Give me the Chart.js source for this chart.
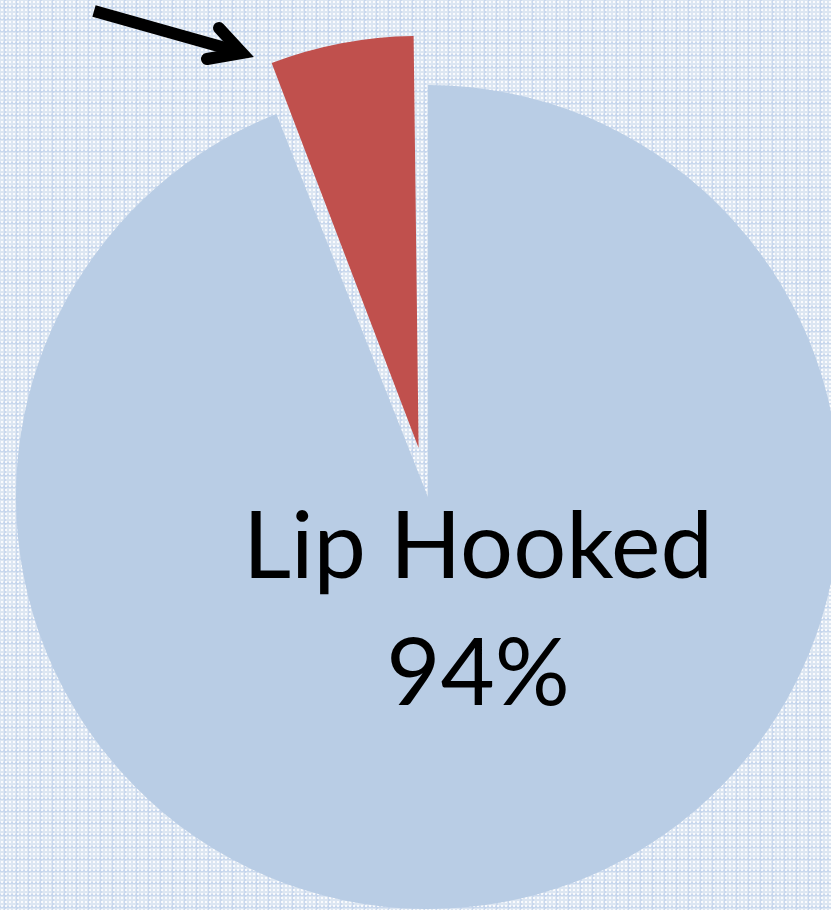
<!DOCTYPE html>
<html>
<head>
<meta charset="utf-8">
<script src="https://cdn.jsdelivr.net/npm/chart.js@4.4.1/dist/chart.umd.min.js"></script>
<style>
  html, body {
    margin: 0;
    padding: 0;
    width: 831px;
    height: 910px;
    overflow: hidden;
  }
  body {
    background-color: #dce6f2;
    background-image:
      radial-gradient(circle, rgba(255,255,255,0.85) 0.8px, transparent 1.2px),
      repeating-linear-gradient(90deg, transparent 0px, transparent 4px, rgba(192,210,236,0.65) 4px, rgba(192,210,236,0.65) 6px, transparent 6px, transparent 12px),
      repeating-linear-gradient(0deg, transparent 0px, transparent 4px, rgba(192,210,236,0.65) 4px, rgba(192,210,236,0.65) 6px, transparent 6px, transparent 12px);
    background-size: 4px 4px, 12px 12px, 12px 12px;
  }
  #wrap {
    position: absolute;
    left: 0;
    top: 0;
    width: 856px;
    height: 994px;
  }
</style>
</head>
<body>
<div id="wrap"><canvas id="grafico"></canvas></div>
<script>
// Datos del gráfico
const categorias = ['Lip Hooked', 'Other'];
const valores = [94, 6];
const colores = ['#b9cde5', '#c0504d'];
// Chart.js v4 aplica offset/4 al dibujar el arco: 200 -> 50 px
const desplazamientos = [0, 200];

// Chart.js agranda el radio del sector desplazado; se compensa para
// que el sector separado conserve el mismo radio que el resto
const radioPlugin = {
  id: 'radioPlugin',
  afterDatasetsUpdate(chart){
    chart.getDatasetMeta(0).data.forEach(arc => {
      const off = (arc.options.offset || 0) / 4;
      if(!off) return;
      const circ = arc.endAngle - arc.startAngle;
      const fix = 1 - Math.sin(Math.min(Math.PI, circ));
      arc.outerRadius = arc.outerRadius - off * fix;
    });
  }
};

// Etiqueta grande dentro del sector azul
const etiquetaPlugin = {
  id: 'etiquetaPlugin',
  afterDatasetsDraw(chart){
    const arc = chart.getDatasetMeta(0).data[0];
    if(!arc) return;
    const ctx = chart.ctx;
    const cx = arc.x, cy = arc.y;
    ctx.save();
    // ajustar tamaño de letra al ancho del original
    let size = 96;
    ctx.font = size + 'px Lato, "Open Sans", sans-serif';
    const w = ctx.measureText(categorias[0]).width;
    size = size * 470 / w;
    ctx.font = size + 'px Lato, "Open Sans", sans-serif';
    ctx.fillStyle = '#000';
    ctx.textAlign = 'center';
    ctx.textBaseline = 'alphabetic';
    ctx.fillText(categorias[0], cx + 50, cy + 81);
    ctx.fillText(valores[0] + '%', cx + 50, cy + 208);
    ctx.restore();
  }
};

// Flecha que señala el sector pequeño
const flechaPlugin = {
  id: 'flechaPlugin',
  afterDraw(chart){
    const ctx = chart.ctx;
    ctx.save();
    ctx.strokeStyle = '#000';
    ctx.lineWidth = 12;
    ctx.lineCap = 'butt';
    ctx.beginPath();
    ctx.moveTo(94, 11);
    ctx.lineTo(236, 51);
    ctx.stroke();
    ctx.lineCap = 'round';
    ctx.lineJoin = 'miter';
    ctx.beginPath();
    ctx.moveTo(219, 28);
    ctx.lineTo(242, 53);
    ctx.lineTo(207, 59);
    ctx.stroke();
    ctx.restore();
  }
};

const ctx = document.getElementById('grafico').getContext('2d');
new Chart(ctx, {
  type: 'pie',
  data: {
    labels: categorias,
    datasets: [{
      data: valores,
      backgroundColor: colores,
      borderWidth: 0,
      offset: desplazamientos,
      hoverOffset: 0
    }]
  },
  options: {
    responsive: true,
    maintainAspectRatio: false,
    animation: false,
    events: [],
    radius: 412,
    layout: { padding: 0 },
    plugins: {
      legend: { display: false },
      tooltip: { enabled: false }
    }
  },
  plugins: [radioPlugin, etiquetaPlugin, flechaPlugin]
});
</script>
</body>
</html>
